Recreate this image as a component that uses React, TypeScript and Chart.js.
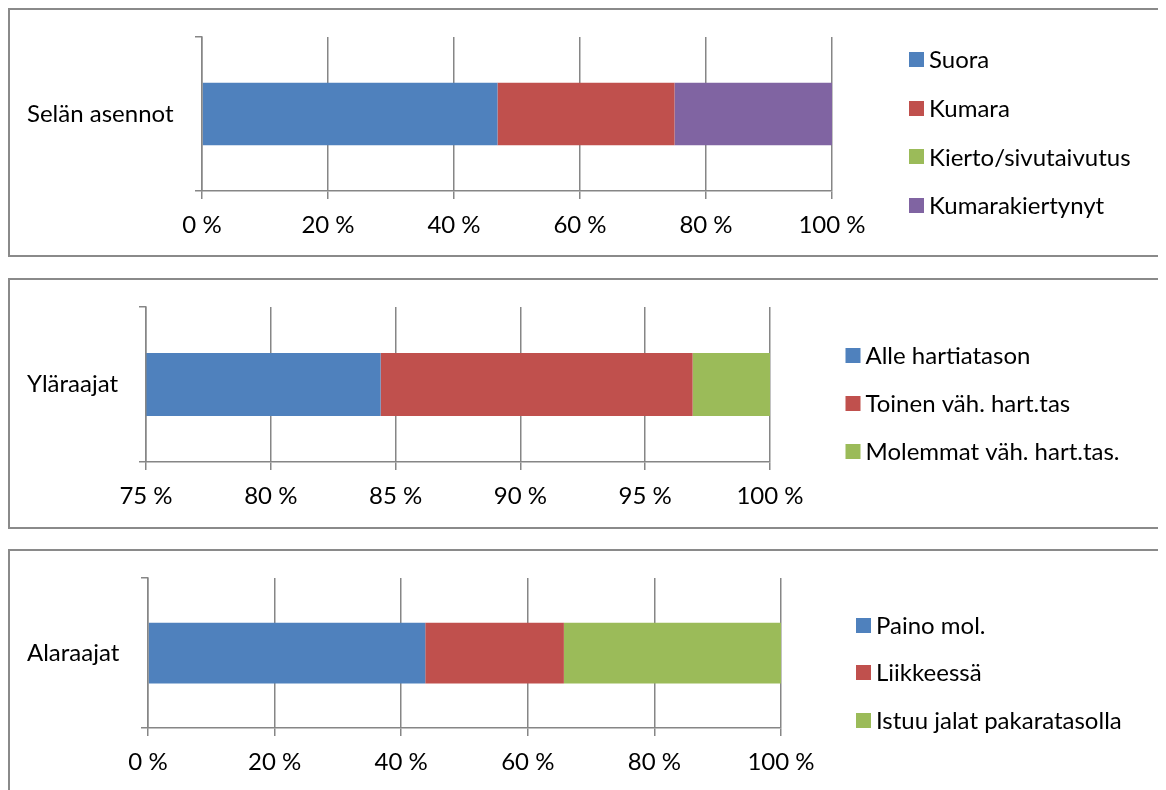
import React, { useEffect, useRef } from "react";
import { Chart, registerables } from "chart.js";

Chart.register(...registerables);

// Selän asennot
const backCategories = ["Selän asennot"];
const backSeries = ["Suora", "Kumara", "Kierto/sivutaivutus", "Kumarakiertynyt"];
const backValues = [46.9, 28.1, 0, 25.0];
const backColors = ["#4F81BD", "#C0504D", "#9BBB59", "#8064A2"];
const backTicks = [0, 20, 40, 60, 80, 100];

// Yläraajat
const upperCategories = ["Yläraajat"];
const upperSeries = ["Alle hartiatason", "Toinen väh. hart.tas", "Molemmat väh. hart.tas."];
const upperValues = [84.4, 12.5, 3.1];
const upperColors = ["#4F81BD", "#C0504D", "#9BBB59"];
const upperTicks = [75, 80, 85, 90, 95, 100];

// Alaraajat
const lowerCategories = ["Alaraajat"];
const lowerSeries = ["Paino mol.", "Liikkeessä", "Istuu jalat pakaratasolla"];
const lowerValues = [43.8, 21.9, 34.3];
const lowerColors = ["#4F81BD", "#C0504D", "#9BBB59"];
const lowerTicks = [0, 20, 40, 60, 80, 100];

const FONT_FAMILY = "Lato";
const FONT_SIZE = 24;
const AXIS_COLOR = "#868686";
const PANEL_WIDTH = 1156;
const BORDER = 2;

// Legend drawn to the right of the plot, vertically centred in the canvas
const sideLegend = {
  id: "sideLegend",
  afterDraw(chart: any, _args: any, opts: any) {
    const { ctx } = chart;
    const items = chart.data.datasets;
    const n = items.length;
    const cy = chart.height / 2;
    ctx.save();
    ctx.font = `${FONT_SIZE}px ${FONT_FAMILY}`;
    ctx.textBaseline = "middle";
    ctx.textAlign = "left";
    items.forEach((ds: any, i: number) => {
      const y = cy + (i - (n - 1) / 2) * opts.spacing;
      ctx.fillStyle = ds.backgroundColor;
      ctx.fillRect(opts.x, Math.round(y - 7.5), 15, 15);
      ctx.fillStyle = "#000";
      ctx.fillText(ds.label, opts.x + 20, y + 1);
    });
    ctx.restore();
  },
};

type Area = { left: number; right: number; top: number; bottom: number };

type PanelProps = {
  categories: string[];
  series: string[];
  values: number[];
  colors: string[];
  ticks: number[];
  height: number;
  marginBottom: number;
  area: Area;
  legendX: number;
  legendSpacing: number;
};

function StackedPanel(props: PanelProps) {
  const ref = useRef<HTMLCanvasElement | null>(null);
  const innerW = PANEL_WIDTH - 2 * BORDER;
  const innerH = props.height - 2 * BORDER;

  useEffect(() => {
    if (!ref.current) return;
    const { area, ticks } = props;
    const padLeft = 17;
    const font = { family: FONT_FAMILY, size: FONT_SIZE };
    const chart = new Chart(ref.current, {
      type: "bar",
      data: {
        labels: props.categories,
        datasets: props.series.map((name, i) => ({
          label: name,
          data: [props.values[i]],
          backgroundColor: props.colors[i],
          borderWidth: 0,
          barPercentage: 0.405,
          categoryPercentage: 1,
        })),
      },
      options: {
        indexAxis: "y",
        animation: false,
        responsive: false,
        devicePixelRatio: 1,
        layout: {
          padding: { left: padLeft, top: area.top, right: innerW - area.right, bottom: 0 },
        },
        plugins: {
          legend: { display: false },
          tooltip: { enabled: false },
          sideLegend: { x: props.legendX, spacing: props.legendSpacing },
        } as any,
        scales: {
          x: {
            stacked: true,
            min: ticks[0],
            max: ticks[ticks.length - 1],
            afterBuildTicks: (scale: any) => {
              scale.ticks = ticks.map((v) => ({ value: v }));
            },
            afterFit: (scale: any) => {
              scale.height = innerH - area.bottom;
            },
            grid: { color: AXIS_COLOR, lineWidth: 1.5, tickLength: 8, drawTicks: true },
            border: { color: AXIS_COLOR, width: 1.5, z: 1 },
            ticks: {
              color: "#000",
              font,
              padding: 12,
              autoSkip: false,
              maxRotation: 0,
              callback: (v: any) => `${v} %`,
            },
          },
          y: {
            stacked: true,
            afterFit: (scale: any) => {
              scale.width = area.left - padLeft;
            },
            grid: {
              offset: true,
              drawOnChartArea: false,
              color: AXIS_COLOR,
              lineWidth: 1.5,
              tickLength: 7,
            },
            border: { color: AXIS_COLOR, width: 1.5, z: 1 },
            ticks: { color: "#000", font, crossAlign: "far" },
          },
        },
      } as any,
      plugins: [sideLegend],
    });
    return () => chart.destroy();
  }, []);

  return (
    <div
      style={{
        width: PANEL_WIDTH,
        height: props.height,
        boxSizing: "border-box",
        border: `${BORDER}px solid #8a8a8a`,
        marginBottom: props.marginBottom,
        background: "#fff",
      }}
    >
      <canvas ref={ref} width={innerW} height={innerH} style={{ display: "block" }} />
    </div>
  );
}

export default function App() {
  return (
    <div>
      <StackedPanel
        categories={backCategories}
        series={backSeries}
        values={backValues}
        colors={backColors}
        ticks={backTicks}
        height={249}
        marginBottom={21}
        area={{ left: 192, right: 822, top: 27, bottom: 181 }}
        legendX={899}
        legendSpacing={48.7}
      />
      <StackedPanel
        categories={upperCategories}
        series={upperSeries}
        values={upperValues}
        colors={upperColors}
        ticks={upperTicks}
        height={251}
        marginBottom={20}
        area={{ left: 136, right: 760, top: 27, bottom: 182 }}
        legendX={835.5}
        legendSpacing={48}
      />
      <StackedPanel
        categories={lowerCategories}
        series={lowerSeries}
        values={lowerValues}
        colors={lowerColors}
        ticks={lowerTicks}
        height={247}
        marginBottom={0}
        area={{ left: 138, right: 771, top: 27, bottom: 177 }}
        legendX={846}
        legendSpacing={47.5}
      />
    </div>
  );
}
